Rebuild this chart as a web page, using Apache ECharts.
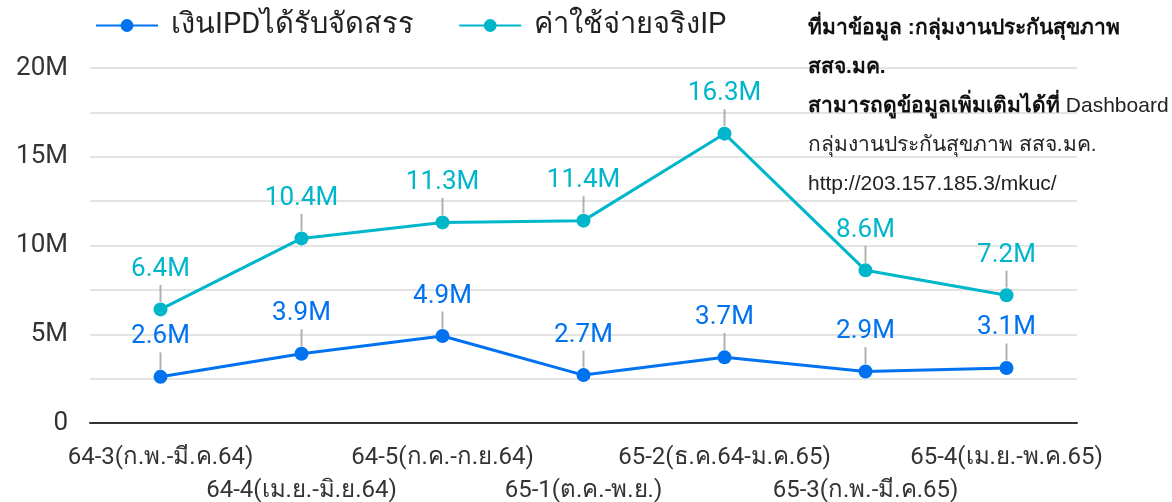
<!DOCTYPE html>
<html lang="th">
<head>
  <meta charset="UTF-8">
  <title>IPD</title>
  <script src="https://cdn.jsdelivr.net/npm/echarts@6/dist/echarts.min.js"></script>
</head>
<body style="margin: 0;">
<div id="main" style="width: 1172px; height: 502px;"></div>
<script type="text/javascript">
  const categories = ['64-3(ก.พ.-มี.ค.64)', '64-4(เม.ย.-มิ.ย.64)', '64-5(ก.ค.-ก.ย.64)', '65-1(ต.ค.-พ.ย.)',
    '65-2(ธ.ค.64-ม.ค.65)', '65-3(ก.พ.-มี.ค.65)', '65-4(เม.ย.-พ.ค.65)']
  const ipdAllocated = [2.6e6, 3.9e6, 4.9e6, 2.7e6, 3.7e6, 2.9e6, 3.1e6]
  const ipActualCost = [6.4e6, 10.4e6, 11.3e6, 11.4e6, 16.3e6, 8.6e6, 7.2e6]
  const seriesNames = ['เงินIPDได้รับจัดสรร', 'ค่าใช้จ่ายจริงIP']
  const noteLines = [
    ['ที่มาข้อมูล :กลุ่มงานประกันสุขภาพ', ''],
    ['สสจ.มค.', ''],
    ['สามารถดูข้อมูลเพิ่มเติมได้ที่', ' Dashboard'],
    ['', 'กลุ่มงานประกันสุขภาพ สสจ.มค.'],
    ['', 'http://203.157.185.3/mkuc/']
  ]

  const blue = '#0072f0'
  const teal = '#00b6cb'
  const font = 'Roboto, "Noto Sans", sans-serif'

  const myChart = echarts.init(document.getElementById('main'));

  const fmtM = v => (v / 1e6).toFixed(1) + 'M'

  function lineSeries(name, data, color) {
    return {
      name: name,
      type: 'line',
      data: data,
      symbol: 'circle',
      symbolSize: 14,
      z: 5,
      lineStyle: {color: color, width: 3},
      itemStyle: {color: color},
      label: {
        show: true,
        position: 'top',
        distance: 20,
        color: color,
        fontSize: 26,
        fontFamily: font,
        formatter: p => fmtM(p.value)
      }
    }
  }

  // little grey stick between a point and its label
  function stickSeries(data) {
    return {
      type: 'scatter',
      data: data,
      symbol: 'rect',
      symbolSize: [2, 17],
      symbolOffset: [0, -16],
      itemStyle: {color: '#9e9e9e'},
      silent: true,
      z: 3
    }
  }

  const noteText = noteLines.map(([b, n]) => (b ? '{b|' + b + '}' : '') + (n ? '{n|' + n + '}' : '')).join('\n')

  const option = {
    animation: false,
    textStyle: {fontFamily: font},
    legend: {
      data: seriesNames,
      left: 90,
      top: 6,
      itemWidth: 62,
      itemHeight: 16,
      itemGap: 44,
      textStyle: {fontSize: 29, color: '#222', fontFamily: font, padding: [0, 0, 0, 8]}
    },
    grid: {
      left: 90,
      right: 95,
      top: 68,
      bottom: 79,
      containLabel: false,
      outerBoundsMode: 'none'
    },
    xAxis: {
      type: 'category',
      data: categories,
      axisTick: {show: false},
      axisLine: {lineStyle: {color: '#333', width: 2}},
      axisLabel: {
        interval: 0,
        fontSize: 24,
        color: '#333',
        lineHeight: 33,
        margin: 18,
        formatter: (v, i) => i % 2 ? '\n' + v : v
      }
    },
    yAxis: {
      type: 'value',
      min: 0,
      max: 20e6,
      interval: 5e6,
      axisLabel: {
        fontSize: 26,
        color: '#333',
        margin: 22,
        formatter: v => v === 0 ? '0' : (v / 1e6) + 'M'
      },
      splitLine: {lineStyle: {color: '#e3e3e3', width: 2}},
      minorTick: {show: false, splitNumber: 2},
      minorSplitLine: {show: true, lineStyle: {color: '#e3e3e3', width: 2}}
    },
    graphic: [{
      type: 'text',
      left: 808,
      top: 9,
      z: 10,
      style: {
        text: noteText,
        fill: '#111',
        lineHeight: 39,
        rich: {
          b: {fontSize: 21, fontWeight: 'bold', lineHeight: 39, fill: '#111'},
          n: {fontSize: 21, lineHeight: 39, fill: '#222'}
        }
      }
    }],
    series: [
      lineSeries(seriesNames[0], ipdAllocated, blue),
      lineSeries(seriesNames[1], ipActualCost, teal),
      stickSeries(ipdAllocated),
      stickSeries(ipActualCost)
    ]
  };

  myChart.setOption(option);
</script>
</body>
</html>
